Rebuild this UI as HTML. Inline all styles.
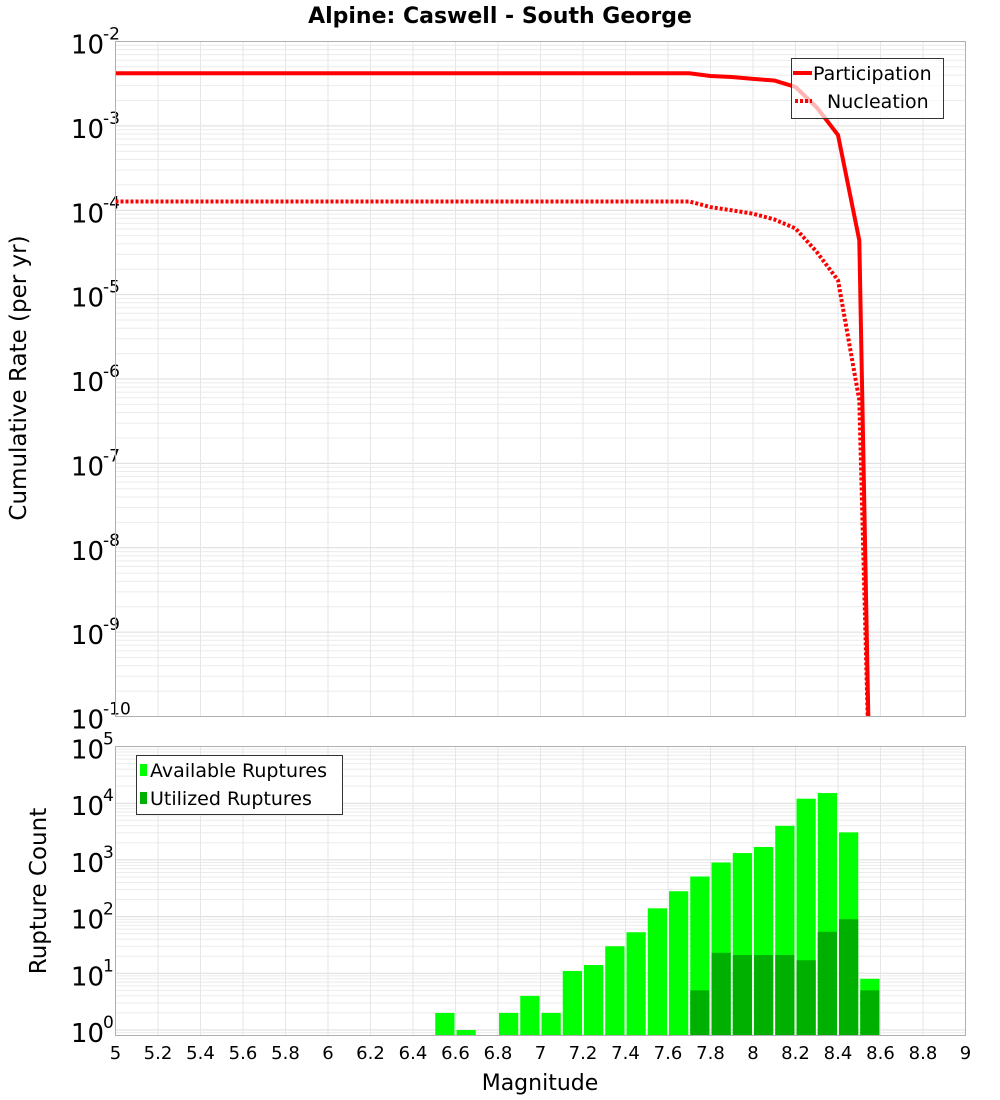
<!DOCTYPE html>
<html><head><meta charset="utf-8"><style>
html,body{margin:0;padding:0;background:#fff;}
svg{display:block;font-family:"DejaVu Sans","Liberation Sans",sans-serif;}
</style></head><body>
<svg id="chart" width="1000" height="1100" viewBox="0 0 1000 1100" xmlns="http://www.w3.org/2000/svg">
<text x="500" y="23" text-anchor="middle" font-size="22" font-weight="bold">Alpine: Caswell - South George</text>
<g id="topPlot"></g>
<g id="botPlot"></g>
<text transform="translate(26,378) rotate(-90)" text-anchor="middle" font-size="23">Cumulative Rate (per yr)</text>
<text transform="translate(46,891) rotate(-90)" text-anchor="middle" font-size="23">Rupture Count</text>
<text x="540" y="1090" text-anchor="middle" font-size="22">Magnitude</text>
</svg>
<script>
const rateMags = [5.0, 7.7, 7.8, 7.9, 8.0, 8.1, 8.2, 8.3, 8.4, 8.5, 8.55];
const participation = [4.2e-3, 4.2e-3, 3.9e-3, 3.8e-3, 3.6e-3, 3.45e-3, 2.9e-3, 1.65e-3, 7.8e-4, 4.4e-5, 1e-11];
const nucleation = [1.27e-4, 1.27e-4, 1.09e-4, 1.0e-4, 9.1e-5, 7.8e-5, 6.1e-5, 3.2e-5, 1.48e-5, 5.6e-7, 1e-11];
const binStarts = [6.5, 6.6, 6.8, 6.9, 7.0, 7.1, 7.2, 7.3, 7.4, 7.5, 7.6, 7.7, 7.8, 7.9, 8.0, 8.1, 8.2, 8.3, 8.4, 8.5];
const available = [2, 1, 2, 4, 2, 11, 14, 30, 53, 140, 280, 510, 900, 1320, 1690, 3990, 12000, 15100, 3060, 8];
const utilized = [0, 0, 0, 0, 0, 0, 0, 0, 0, 0, 0, 5, 23, 21, 21, 21, 17, 54, 90, 5];
const xTicks = ["5","5.2","5.4","5.6","5.8","6","6.2","6.4","6.6","6.8","7","7.2","7.4","7.6","7.8","8","8.2","8.4","8.6","8.8","9"];
const topExps = [-2,-3,-4,-5,-6,-7,-8,-9,-10];
const botExps = [5,4,3,2,1,0];

const NS="http://www.w3.org/2000/svg";
const L=115.5,R=965.5;
const X=m=>L+(m-5)*(R-L)/4;
const TT=41.5,TB=716.5;
const Yt=v=>TT+(-2-Math.log10(v))*(TB-TT)/8;
const BT=746.5,BB=1035.5,Y1=1030,DEC=(Y1-BT)/5;
const Yb=v=>Y1-Math.log10(v)*DEC;
function mk(tag,attrs,parent){const e=document.createElementNS(NS,tag);for(const k in attrs)e.setAttribute(k,attrs[k]);parent.appendChild(e);return e;}
const topG=document.getElementById('topPlot'),botG=document.getElementById('botPlot');

function frame(g,t0,b0,yfn,lo,hi,exps){
  mk('rect',{x:L,y:t0,width:R-L,height:b0-t0,fill:'#fff'},g);
  for(let d=lo;d<hi;d++)for(let k=1;k<10;k++){const y=yfn(k*Math.pow(10,d));if(y<t0||y>b0)continue;
    const ln=mk('line',{x1:L,x2:R,y1:y,y2:y,stroke:k==1?'#dcdcdc':'#ebebeb','stroke-width':1},g);
    
    }
  xTicks.forEach(s=>{const x=X(parseFloat(s));
    const ln=mk('line',{x1:x,x2:x,y1:t0,y2:b0,stroke:'#e6e6e6','stroke-width':1},g);
    
    });
  exps.forEach(e=>{const y=yfn(Math.pow(10,e));
    const tx=mk('text',{x:104,y:y+12,'text-anchor':'end','font-size':26},g);
    
    
    tx.textContent='10';
    const sp=mk('text',{x:103,y:y-2,'text-anchor':'start','font-size':17},g);
    
    
    sp.textContent=String(e);});
}
frame(topG,TT,TB,Yt,-10,-2,topExps);
frame(botG,BT,BB,Yb,-1,5,botExps);

function path(vals){return rateMags.map((m,i)=>(i?'L':'M')+X(m).toFixed(1)+','+Yt(vals[i]).toFixed(1)).join(' ');}
const cp=mk('clipPath',{id:'cp'},topG);mk('rect',{x:L,y:TT,width:R-L,height:TB-TT},cp);
const pl=mk('path',{d:path(participation),fill:'none',stroke:'#ff0000','stroke-width':4,'clip-path':'url(#cp)'},topG);


const nl=mk('path',{d:path(nucleation),fill:'none',stroke:'#ff0000','stroke-width':4,'stroke-dasharray':'3,2','clip-path':'url(#cp)'},topG);


mk('rect',{x:L,y:TT,width:R-L,height:TB-TT,fill:'none',stroke:'#b0b0b0'},topG);

const lg=mk('g',{},topG);


mk('rect',{x:791.5,y:58.5,width:152,height:60,fill:'rgba(255,255,255,0.7)',stroke:'#333'},lg);
mk('line',{x1:793,x2:812,y1:73,y2:73,stroke:'#f00','stroke-width':4},lg);
mk('line',{x1:795,x2:812,y1:101,y2:101,stroke:'#f00','stroke-width':4,'stroke-dasharray':'3,2'},lg);
let tt=mk('text',{x:813,y:80,'font-size':19},lg);tt.textContent='Participation';
tt=mk('text',{x:827,y:108,'font-size':19},lg);tt.textContent='Nucleation';

binStarts.forEach((m,i)=>{const x0=X(m)+1,x1=X(m+0.1)-1;
  const b=mk('rect',{x:x0,y:Yb(available[i]),width:x1-x0,height:BB-Yb(available[i]),fill:'#00ff00'},botG);
  
  
  if(utilized[i]>0){const u=mk('rect',{x:x0,y:Yb(utilized[i]),width:x1-x0,height:BB-Yb(utilized[i]),fill:'#00b000'},botG);
    
    }
});
mk('rect',{x:L,y:BT,width:R-L,height:BB-BT,fill:'none',stroke:'#b0b0b0'},botG);
const lb=mk('g',{},botG);


mk('rect',{x:136.5,y:755.5,width:206,height:59,fill:'#fff',stroke:'#333'},lb);
mk('rect',{x:140,y:764,width:7,height:12,fill:'#00ff00'},lb);
mk('rect',{x:140,y:792,width:7,height:12,fill:'#00b000'},lb);
tt=mk('text',{x:150,y:777,'font-size':19},lb);tt.textContent='Available Ruptures';
tt=mk('text',{x:150,y:805,'font-size':19},lb);tt.textContent='Utilized Ruptures';

xTicks.forEach(s=>{const tx=mk('text',{x:X(parseFloat(s)),y:1059,'text-anchor':'middle','font-size':18},botG);
  
  
  tx.textContent=s;});
</script>
</body></html>
